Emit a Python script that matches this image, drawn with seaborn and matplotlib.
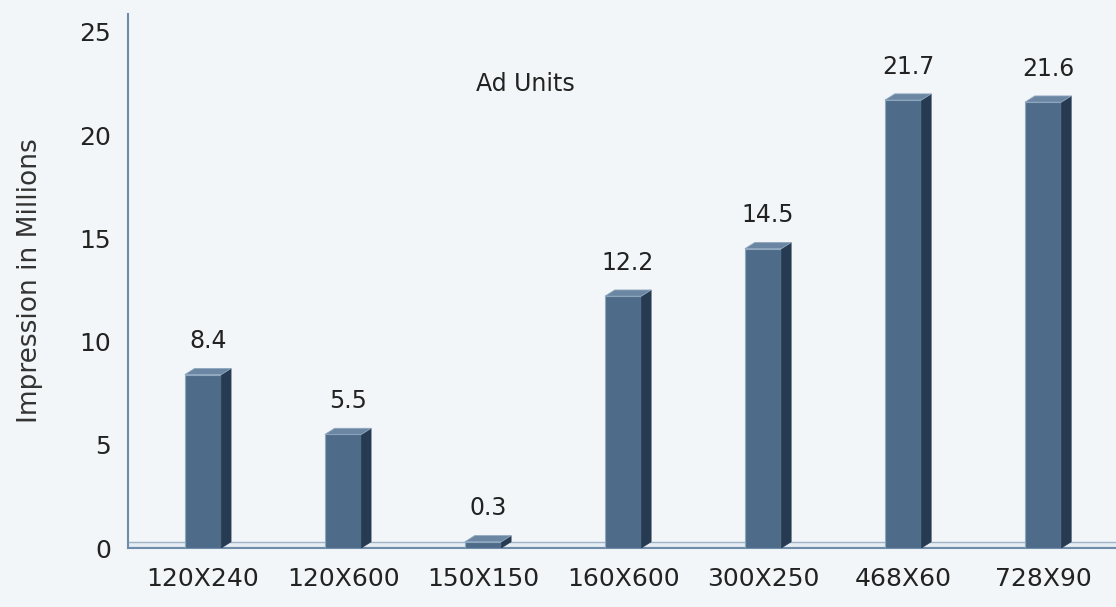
import matplotlib
matplotlib.use("Agg")
import matplotlib.pyplot as plt
import seaborn as sns
import pandas as pd
from matplotlib.patches import Polygon

ad_units = ["120X240", "120X600", "150X150", "160X600", "300X250", "468X60", "728X90"]
impressions = [8.4, 5.5, 0.3, 12.2, 14.5, 21.7, 21.6]
y_ticks = [0, 5, 10, 15, 20, 25]

bg = "#f3f6f8"
front = "#4e6c8a"
side = "#263b52"
top = "#6a86a2"
edge = "#8fa7bf"
axis_col = "#6f8dab"

sns.set_style("white")
plt.rcParams["font.family"] = ["DejaVu Sans"]

df = pd.DataFrame({"unit": ad_units, "value": impressions})

fig = plt.figure(figsize=(11.16, 6.07), dpi=100, facecolor=bg)
ax = fig.add_axes([128 / 1116, 59 / 607, 988 / 1116, 534 / 607])
ax.set_facecolor(bg)

sns.barplot(data=df, x="unit", y="value", color=front, width=0.26,
            saturation=1, edgecolor=edge, linewidth=0.8, ax=ax, zorder=3)

# fake 3D: side and top faces built from the bar patches
dx, dy = 0.07, 0.3
for p in list(ax.patches):
    x0 = p.get_x()
    w, h = p.get_width(), p.get_height()
    ax.add_patch(Polygon([(x0 + w, 0), (x0 + w + dx, dy), (x0 + w + dx, h + dy), (x0 + w, h)],
                         closed=True, facecolor=side, edgecolor=side, lw=0.5, zorder=3))
    ax.add_patch(Polygon([(x0, h), (x0 + w, h), (x0 + w + dx, h + dy), (x0 + dx, h + dy)],
                         closed=True, facecolor=top, edgecolor=edge, lw=0.6, zorder=3))
    ax.annotate(f"{h:.1f}", (x0 + (w + dx) / 2, h + dy), xytext=(0, 11),
                textcoords="offset points", ha="center", va="bottom",
                fontsize=17, color="#222222")

# floor slab
ax.fill_between([-0.6, 7], 0, 0.3, color="#e6edf3", zorder=0.5)
ax.axhline(0.3, color="#9fb4c8", lw=1, zorder=0.6)
ax.axhline(0, color=axis_col, lw=1.5, zorder=0.6)

ax.set_xlim(-0.536, 6.52)
ax.set_ylim(0, 25.87)
ax.set_yticks(y_ticks)
ax.set_yticks([2.5, 7.5, 12.5, 17.5, 22.5], minor=True)
ax.tick_params(axis="y", which="major", length=0, pad=12, labelsize=18, labelcolor="#222222")
ax.tick_params(axis="y", which="minor", length=4, color="#c9d5e0")
ax.tick_params(axis="x", length=0, pad=14, labelsize=18, labelcolor="#222222")
ax.set_xticks(range(len(ad_units)))
ax.set_xticklabels(ad_units)

ax.set_xlabel("")
ax.set_ylabel("Impression in Millions", fontsize=19, color="#333333", labelpad=26)
ax.text(2.3, 22.5, "Ad Units", ha="center", va="center", fontsize=17, color="#222222")

for s in ["top", "right"]:
    ax.spines[s].set_visible(False)
ax.spines["left"].set_color(axis_col)
ax.spines["left"].set_linewidth(1.5)
ax.spines["bottom"].set_color(axis_col)
ax.spines["bottom"].set_linewidth(1.5)

fig.savefig("out.png", dpi=100, facecolor=bg)
